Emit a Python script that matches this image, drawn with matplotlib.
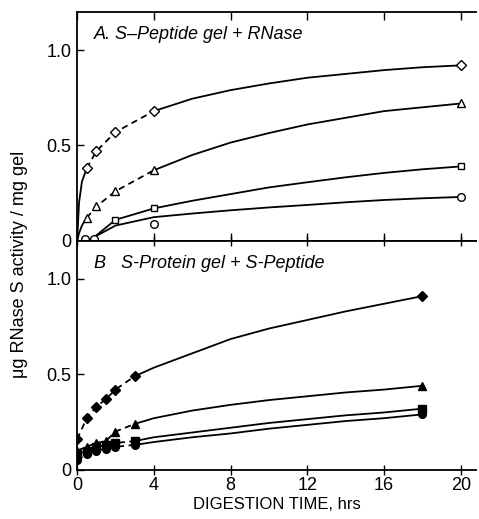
import numpy as np
import matplotlib.pyplot as plt

plt.rcParams['font.family'] = ['Liberation Sans', 'DejaVu Sans']

# ---- Panel A: S-Peptide gel + RNase (open symbols) ----
a_dia_x = [0.5, 1, 2, 4, 20]
a_dia_y = [0.38, 0.47, 0.57, 0.68, 0.92]
a_tri_x = [0.5, 1, 2, 4, 20]
a_tri_y = [0.12, 0.18, 0.26, 0.37, 0.72]
a_sq_x = [2, 4, 20]
a_sq_y = [0.11, 0.17, 0.39]
a_cir_x = [0.4, 0.9, 4, 20]
a_cir_y = [0.01, 0.01, 0.09, 0.23]

# hand-drawn curves
a_head_x = [0, 0.1, 0.25, 0.5]
a_dia_head = [0, 0.2, 0.31, 0.38]
a_tri_head = [0, 0.04, 0.08, 0.12]
a_tail_x = [4, 6, 8, 10, 12, 14, 16, 18, 20]
a_dia_tail = [0.68, 0.745, 0.79, 0.825, 0.855, 0.875, 0.895, 0.91, 0.92]
a_tri_tail = [0.37, 0.45, 0.515, 0.565, 0.61, 0.645, 0.68, 0.70, 0.72]
a_sq_curve_x = [0.9, 2, 4, 6, 8, 10, 12, 14, 16, 18, 20]
a_sq_curve = [0.02, 0.11, 0.17, 0.21, 0.245, 0.28, 0.307, 0.333, 0.356, 0.375, 0.39]
a_cir_curve = [0.02, 0.08, 0.124, 0.143, 0.16, 0.175, 0.188, 0.202, 0.214, 0.223, 0.23]

# ---- Panel B: S-Protein gel + S-Peptide (filled symbols) ----
b_x = [0, 0.5, 1, 1.5, 2, 3, 18]
b_dia_y = [0.16, 0.27, 0.33, 0.37, 0.42, 0.49, 0.91]
b_tri_y = [0.10, 0.12, 0.14, 0.15, 0.20, 0.24, 0.44]
b_sq_y = [0.08, 0.10, 0.12, 0.13, 0.14, 0.15, 0.32]
b_cir_y = [0.05, 0.08, 0.10, 0.11, 0.12, 0.13, 0.29]

b_tail_x = [3, 4, 6, 8, 10, 12, 14, 16, 18]
b_dia_tail = [0.49, 0.535, 0.61, 0.685, 0.74, 0.785, 0.83, 0.87, 0.91]
b_tri_tail = [0.24, 0.27, 0.31, 0.34, 0.365, 0.385, 0.405, 0.42, 0.44]
b_sq_tail = [0.15, 0.17, 0.195, 0.22, 0.245, 0.265, 0.285, 0.30, 0.32]
b_cir_tail = [0.13, 0.145, 0.17, 0.19, 0.215, 0.235, 0.255, 0.27, 0.29]

fig, (ax1, ax2) = plt.subplots(2, 1, sharex=True, figsize=(4.79, 5.19), dpi=100)
fig.subplots_adjust(left=0.161, right=0.994, top=0.977, bottom=0.095, hspace=0)

lw = 1.3
dash = (0, (3.5, 2.5))
mk = dict(color='black', markerfacecolor='white', markeredgecolor='black',
          markeredgewidth=1.0, linestyle='none')

# panel A
ax1.plot(a_head_x, a_dia_head, '-', color='black', lw=lw)
ax1.plot(a_head_x, a_tri_head, '-', color='black', lw=lw)
ax1.plot(a_dia_x[:4], a_dia_y[:4], color='black', lw=lw, linestyle=dash)
ax1.plot(a_tri_x[:4], a_tri_y[:4], color='black', lw=lw, linestyle=dash)
ax1.plot(a_tail_x, a_dia_tail, '-', color='black', lw=lw)
ax1.plot(a_tail_x, a_tri_tail, '-', color='black', lw=lw)
ax1.plot(a_sq_curve_x, a_sq_curve, '-', color='black', lw=lw)
ax1.plot(a_sq_curve_x, a_cir_curve, '-', color='black', lw=lw)
ax1.plot(a_dia_x, a_dia_y, marker='D', markersize=5, **mk)
ax1.plot(a_tri_x, a_tri_y, marker='^', markersize=5.5, **mk)
ax1.plot(a_sq_x, a_sq_y, marker='s', markersize=5, **mk)
ax1.plot(a_cir_x, a_cir_y, marker='o', markersize=5.5, **mk)
ax1.text(0.9, 1.06, 'A. S\u2013Peptide gel + RNase', style='italic', fontsize=13)

# panel B
for y, tail, m, ms in [(b_dia_y, b_dia_tail, 'D', 5), (b_tri_y, b_tri_tail, '^', 6),
                       (b_sq_y, b_sq_tail, 's', 5.5), (b_cir_y, b_cir_tail, 'o', 5.5)]:
    ax2.plot(b_x[:6], y[:6], color='black', lw=lw, linestyle=dash)
    ax2.plot(b_tail_x, tail, '-', color='black', lw=lw)
    ax2.plot(b_x, y, marker=m, markersize=ms, color='black', linestyle='none')
ax2.text(0.9, 1.06, 'B   S-Protein gel + S-Peptide', style='italic', fontsize=13)

for ax in (ax1, ax2):
    ax.set_xlim(0, 20.8)
    ax.set_ylim(0, 1.2)
    ax.set_yticks([0, 0.5, 1.0])
    ax.set_yticklabels(['0', '0.5', '1.0'])
    ax.spines['right'].set_visible(False)
    ax.tick_params(direction='in', length=5, width=1, labelsize=13, top=True, pad=4)
    for s in ax.spines.values():
        s.set_linewidth(1.3)

ax1.tick_params(axis='x', bottom=True, length=6)
ax2.set_xticks([0, 4, 8, 12, 16, 20])
ax2.tick_params(axis='x', direction='inout', length=7, pad=2)
ax2.set_xlabel('DIGESTION TIME, hrs', fontsize=12, labelpad=2)
fig.text(0.04, 0.49, '\u03bcg RNase S activity / mg gel', rotation=90,
         ha='center', va='center', fontsize=13)

fig.savefig('out.png', dpi=100)
